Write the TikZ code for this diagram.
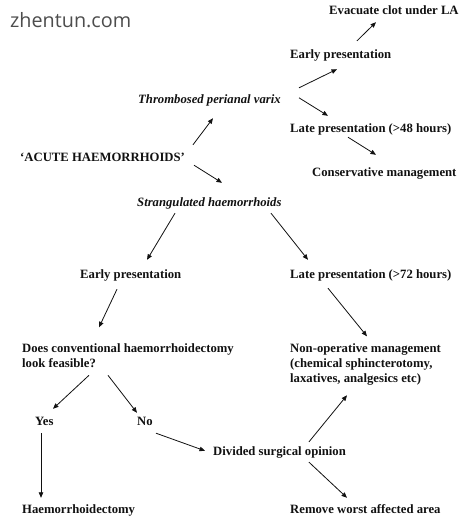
\documentclass[tikz,border=0pt]{standalone}
\usepackage{fontspec}
\setmainfont{Liberation Serif}
\newfontfamily\wmfont{Open Sans}
\usetikzlibrary{arrows.meta}
\definecolor{cInk}{HTML}{111111}
\definecolor{cMark}{HTML}{4d4d4d}
\tikzset{
  >={Triangle[length=5.5pt,width=4.5pt]},
  flow/.style={->, draw=cInk, line width=0.8pt},
  lbl/.style={anchor=base west, inner sep=0pt, text height=9pt, text depth=3pt,
      font=\fontsize{12.7}{15}\selectfont\bfseries, text=cInk},
  ilbl/.style={lbl, font=\fontsize{12.7}{15}\selectfont\bfseries\itshape},
  para/.style={anchor=north west, inner sep=0pt, align=left,
      font=\fontsize{12.7}{15}\selectfont\bfseries, text=cInk},
}

\begin{document}
\begin{tikzpicture}[x=1pt, y=-1pt]
\useasboundingbox (0,0) rectangle (469,523);

% ===================== watermark =====================
\node[anchor=base west, inner sep=0pt, font=\wmfont\fontsize{19.8}{24}\selectfont, text=cMark] (mark) at (10,27) {zhentun.com};

% ===================== top branch =====================
\node[lbl] (acute) at (20,161) {`ACUTE HAEMORRHOIDS'};
\node[ilbl] (thromb) at (138,103) {Thrombosed perianal varix};
\node[lbl] (early1) at (290,58) {Early presentation};
\node[lbl] (evac) at (329,14) {Evacuate clot under LA};
\node[lbl] (late48) at (290,132) {Late presentation (>48 hours)};
\node[lbl] (cons) at (312,176) {Conservative management};

\draw[flow] ([shift={(173,-7)}]acute.north west) -- ([shift={(75,12)}]thromb.south west);
\draw[flow] ([shift={(161,-6)}]thromb.north west) -- ([shift={(47,8)}]early1.south west);
\draw[flow] ([shift={(161,4)}]thromb.north west) -- ([shift={(38,-7)}]late48.north west);
\draw[flow] ([shift={(67,-8)}]early1.north west) -- ([shift={(47,5)}]evac.south west);
\draw[flow] ([shift={(58,2)}]late48.south west) -- ([shift={(64,-12)}]cons.north west);

% ===================== strangulated branch =====================
\node[ilbl] (strang) at (137,206) {Strangulated haemorrhoids};
\node[lbl] (early2) at (80,278) {Early presentation};
\node[lbl] (late72) at (290,278) {Late presentation (>72 hours)};
\node[para] (does) at (22,343.3) {Does conventional haemorrhoidectomy\\look feasible?};
\node[para] (nonop) at (290,343.3) {Non-operative management\\(chemical sphincterotomy,\\laxatives, analgesics etc)};

\draw[flow] ([shift={(174,1)}]acute.south west) -- ([shift={(85,-14)}]strang.north west);
\draw[flow] ([shift={(38,4)}]strang.south west) -- ([shift={(67,-9)}]early2.north west);
\draw[flow] ([shift={(134,4)}]strang.south west) -- ([shift={(18,-9)}]late72.north west);
\draw[flow] ([shift={(37,8)}]early2.south west) -- ([shift={(77,-16)}]does.north west);
\draw[flow] ([shift={(38,7)}]late72.south west) -- ([shift={(77,-7)}]nonop.north west);

% ===================== decision =====================
\node[lbl] (yes) at (35,425) {Yes};
\node[lbl] (no) at (137,425) {No};
\node[lbl] (divided) at (213,455) {Divided surgical opinion};
\node[lbl] (haem) at (22,513) {Haemorrhoidectomy};
\node[lbl] (remove) at (290,513) {Remove worst affected area};

\draw[flow] ([shift={(67,32)}]does.north west) -- ([shift={(18,-7)}]yes.north west);
\draw[flow] ([shift={(86,32)}]does.north west) -- ([shift={(0,-3)}]no.north west);
\draw[flow] ([shift={(6,5)}]yes.south west) -- ([shift={(19,-6)}]haem.north west);
\draw[flow] ([shift={(19,5)}]no.south west) -- ([shift={(-8,5)}]divided.north west);
\draw[flow] ([shift={(96,-4)}]divided.north west) -- ([shift={(57,52)}]nonop.north west);
\draw[flow] ([shift={(96,4)}]divided.south west) -- ([shift={(57,-6)}]remove.north west);

\end{tikzpicture}
\end{document}
